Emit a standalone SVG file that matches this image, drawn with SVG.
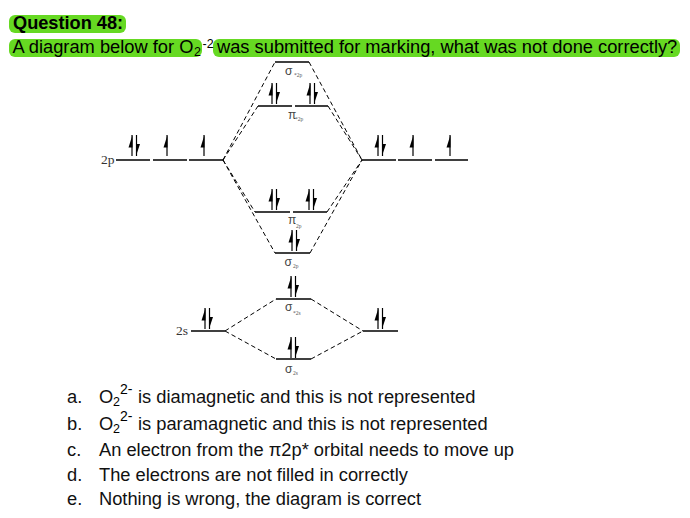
<svg xmlns="http://www.w3.org/2000/svg" xmlns:xlink="http://www.w3.org/1999/xlink" width="690" height="518" viewBox="0 0 690 518">
<style>
text{font-family:"Liberation Sans",Arial,sans-serif;fill:#000}
.q{font-size:18.3px}
.o{font-size:18.3px;fill:#111}
.sub{font-size:12.500px}
.sup{font-size:14px}
.s{font-family:"Liberation Serif","Times New Roman",serif;fill:#333}
.g{font-size:12px;fill:#444}
.t{font-family:"Liberation Serif","Times New Roman",serif;font-size:5.500px;fill:#555}
.lv{stroke:#000;stroke-width:1.5;fill:none}
.d{stroke:#000;stroke-width:1;stroke-dasharray:4.500 3;fill:none}
.hl{fill:#66d922}
</style>
<defs>
<g id="up"><path d="M0 0V21" stroke="#000" stroke-width="1.200" fill="none"/><path d="M0.500 0L-3.500 12.500H0.500Z" fill="#000"/></g>
<g id="down"><path d="M0 0V21" stroke="#000" stroke-width="1.200" fill="none"/><path d="M-0.500 21L3.500 9H-0.500Z" fill="#000"/></g>
<g id="pair"><use xlink:href="#up" x="0"/><use xlink:href="#down" x="4.500"/></g>
</defs>
<g id="heading">
<rect class="hl" x="9" y="15" width="117" height="18" rx="6"/>
<rect class="hl" x="9" y="39" width="193" height="18" rx="6"/>
<rect class="hl" x="213" y="39" width="467" height="18" rx="6"/>
<text x="13" y="29" font-weight="bold" font-size="18.200">Question 48:</text>
<text class="q" x="12.500" y="53">A diagram below for O</text>
<text class="sub" x="194" y="56">2</text>
<text class="sub" x="202.500" y="47.500">-2</text>
<text class="q" x="217" y="53">was submitted for marking, what was not done correctly?</text>
</g>
<g id="connectors">
<path class="d" d="M223 160L275 62M309 62L362 160"/>
<path class="d" d="M223 160L258 106M328 106L362 160"/>
<path class="d" d="M223 160L255 212M327 212L362 160"/>
<path class="d" d="M223 160L275 253M310 253L362 160"/>
<path class="d" d="M225 331L276 299M311 299L363 331"/>
<path class="d" d="M225 331L276 359M311 359L363 331"/>
</g>
<g id="left-2p">
<path class="lv" d="M116 160H150M153 160H187M189 160H223"/>
<use xlink:href="#pair" x="132" y="135"/><use xlink:href="#up" x="167" y="135"/><use xlink:href="#up" x="204" y="135"/>
<text class="s" x="101" y="164" font-size="13.500">2p</text>
</g>
<g id="right-2p">
<path class="lv" d="M362 160H396M398 160H432M435 160H468"/>
<use xlink:href="#pair" x="378" y="135"/><use xlink:href="#up" x="413" y="135"/><use xlink:href="#up" x="450" y="135"/>
</g>
<g id="sigma-star-2p">
<path class="lv" d="M275 62H309"/>
<text class="g" x="285" y="75">σ</text><text class="t" x="294" y="77">*2p</text>
</g>
<g id="pi-star-2p">
<path class="lv" d="M258 106H292M295 106H328"/>
<use xlink:href="#pair" x="272" y="83"/><use xlink:href="#pair" x="310" y="83"/>
<text class="g" x="288" y="119">π</text><text class="t" x="295" y="121">*2p</text>
</g>
<g id="pi-2p">
<path class="lv" d="M255 212H290M293 212H327"/>
<use xlink:href="#pair" x="272" y="189"/><use xlink:href="#pair" x="309" y="189"/>
<text class="g" x="288" y="224">π</text><text class="t" x="296" y="228">2p</text>
</g>
<g id="sigma-2p">
<path class="lv" d="M275 253H310"/>
<use xlink:href="#pair" x="292" y="230"/>
<text class="g" x="284.500" y="266">σ</text><text class="t" x="293" y="268">2p</text>
</g>
<g id="left-2s">
<path class="lv" d="M191 331H225"/>
<use xlink:href="#pair" x="205" y="308"/>
<text class="s" x="176" y="335" font-size="13.500">2s</text>
</g>
<g id="right-2s">
<path class="lv" d="M363 331H398"/>
<use xlink:href="#pair" x="378" y="308"/>
</g>
<g id="sigma-star-2s">
<path class="lv" d="M276 299H311"/>
<use xlink:href="#pair" x="291" y="276"/>
<text class="g" x="285" y="311">σ</text><text class="t" x="293" y="315">*2s</text>
</g>
<g id="sigma-2s">
<path class="lv" d="M276 359H311"/>
<use xlink:href="#pair" x="291" y="337"/>
<text class="g" x="285" y="373">σ</text><text class="t" x="293" y="375">2s</text>
</g>
<g id="options">
<text class="o" x="67" y="403">a.</text>
<text class="o" x="99" y="403">O</text><text class="sub" x="113" y="406">2</text><text class="sup" x="120" y="394">2-</text>
<text class="o" x="138" y="403">is diamagnetic and this is not represented</text>
<text class="o" x="67" y="430">b.</text>
<text class="o" x="99" y="430">O</text><text class="sub" x="113" y="433">2</text><text class="sup" x="120" y="421">2-</text>
<text class="o" x="138" y="430">is paramagnetic and this is not represented</text>
<text class="o" x="67" y="456">c.</text>
<text class="o" x="99" y="456">An electron from the π2p* orbital needs to move up</text>
<text class="o" x="67" y="481">d.</text>
<text class="o" x="99" y="481">The electrons are not filled in correctly</text>
<text class="o" x="67" y="505">e.</text>
<text class="o" x="99" y="505">Nothing is wrong, the diagram is correct</text>
</g>
</svg>
